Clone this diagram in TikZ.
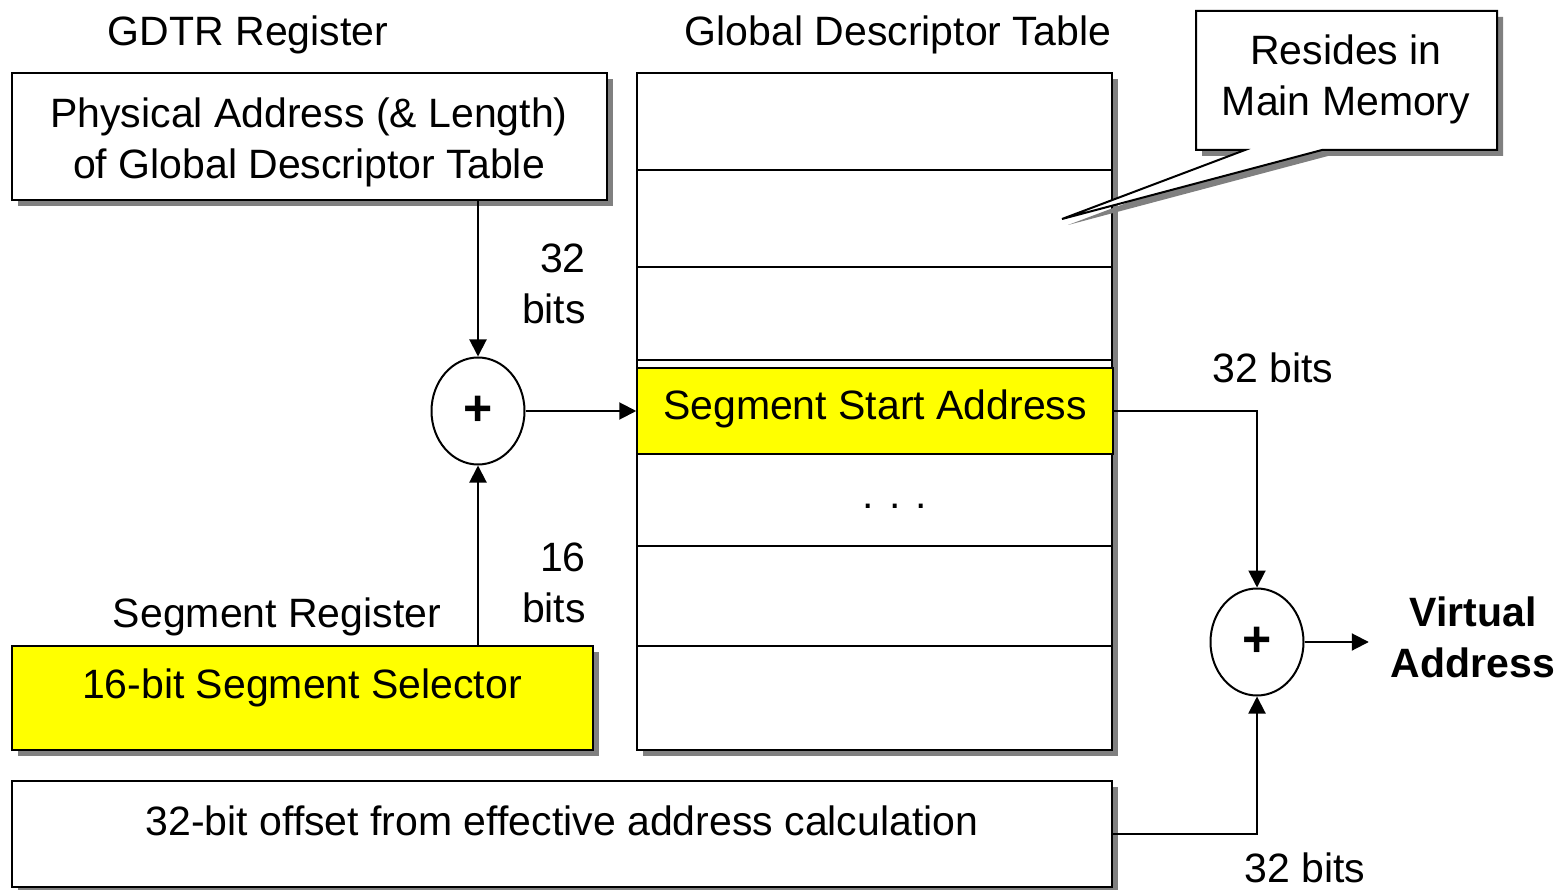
\documentclass[tikz,border=0pt]{standalone}
\usepackage{fontspec}
\setmainfont{Liberation Sans}
\usetikzlibrary{arrows.meta,shapes.geometric,shadows,calc}
\definecolor{shadowgray}{HTML}{808080}
\definecolor{hiyellow}{HTML}{FFFF00}
\begin{document}
\begin{tikzpicture}[x=1pt,y=-1pt,
  every node/.style={font=\fontsize{41}{51}\selectfont, inner sep=0pt},
  thick line/.style={line width=2pt},
  shadowed/.style={drop shadow={shadow xshift=6pt, shadow yshift=-6pt, fill=shadowgray, opacity=1}},
  box/.style={draw, rectangle, line width=2pt, fill=white, inner sep=0pt, shadowed},
  arr/.style={line width=2pt, -{Triangle[length=17pt,width=17pt]}},
  adder/.style={draw, ellipse, line width=2pt, fill=white, minimum width=93pt,
                minimum height=107pt, inner sep=0pt, font=\fontsize{50}{56}\selectfont\bfseries},
  lbl/.style={anchor=base}]
\useasboundingbox (0,0) rectangle (1566,890);

% GDTR register
\node[lbl] (gdtrlbl) at (248,46) {GDTR Register};
\node[box, minimum width=595pt, minimum height=127pt] (gdtr) at (309.5,136.5) {};
\node[align=center] (gdtrtext) at (309,142) {Physical Address (\& Length)\\of Global Descriptor Table};

% Global descriptor table
\node[lbl] (gdtlbl) at (898,46) {Global Descriptor Table};
\node[box, minimum width=475pt, minimum height=677pt] (gdt) at (874.5,411.5) {};
\foreach \yy in {170,267,360,546,646}
  \draw[thick line] (637,\yy) -- (1112,\yy);
\node[draw, fill=hiyellow, line width=1.5pt, minimum width=476pt, minimum height=86pt] (ssa) at (875,411) {};
\node[lbl] (ssatext) at (875,420) {Segment Start Address};
\node[lbl] (dots) at (895,508) {. . .};

% Callout
\draw[thick line, fill=white, shadowed]
  (1196,11) -- (1497,11) -- (1497,150) -- (1322,150) -- (1062,219)
  -- (1245,150) -- (1196,150) -- cycle;
\node[align=center] (note) at (1346,79) {Resides in\\Main Memory};

% Adders
\node[adder] (add1) at (478,411) {+};
\node[adder] (add2) at (1257,642) {+};

% Segment register
\node[lbl] (segreglbl) at (277,627) {Segment Register};
\node[box, fill=hiyellow, minimum width=581pt, minimum height=104pt] (sel) at (302.5,698) {};
\node[lbl] (seltext) at (302,698) {16-bit Segment Selector};

% Offset
\node[box, minimum width=1100pt, minimum height=106pt] (off) at (562,834) {};
\node[lbl] (offtext) at (562,835) {32-bit offset from effective address calculation};

% Result
\node[align=center, font=\fontsize{41}{51}\selectfont\bfseries] (va) at (1473,637) {Virtual\\Address};

% Bit-width labels
\node[align=right, anchor=east] (w1) at (586,284) {32\\bits};
\node[align=right, anchor=east] (w2) at (586,583) {16\\bits};
\node[lbl] (w3) at (1273,382) {32 bits};
\node[lbl] (w4) at (1305,882) {32 bits};

% Connectors
\draw[arr] (add1 |- gdtr.south) -- (add1.north);
\draw[arr] (add1 |- sel.north) -- (add1.south);
\draw[arr] (add1.east) -- (ssa.west);
\draw[arr] (ssa.east) -| (add2.north);
\draw[arr] (off.east) -| (add2.south);
\draw[arr, shorten >=22pt] (add2.east) -- (add2.east -| va.west);
\end{tikzpicture}
\end{document}
